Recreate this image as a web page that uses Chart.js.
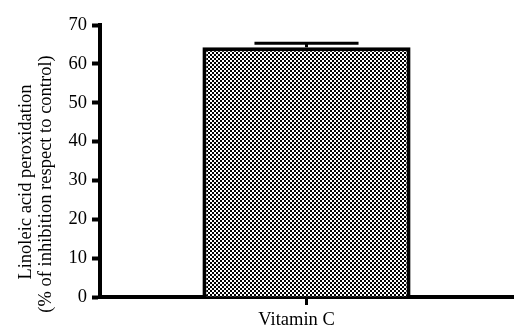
<!DOCTYPE html>
<html>
<head>
<meta charset="utf-8">
<script src="https://cdn.jsdelivr.net/npm/chart.js@4"></script>
<style>
  html, body { margin: 0; padding: 0; background: #fff; }
  #wrap { width: 526px; height: 336px; }
</style>
</head>
<body>
<div id="wrap"><canvas id="myChart" width="526" height="336"></canvas></div>
<script>
// data
const labels = ["Vitamin C"]
const values = [64.3]
const errors = [1.0]
const yTicks = [0, 10, 20, 30, 40, 50, 60, 70]
const yTitle = ["Linoleic acid peroxidation", "(% of inhibition respect to control)"]

const fontFamily = "'Liberation Serif', 'Times New Roman', serif"
const font = { family: fontFamily, size: 18.5 }

// small checker pattern for the bar fill
function checker() {
    let c = document.createElement("canvas")
    c.width = 4
    c.height = 4
    let g = c.getContext("2d")
    g.fillStyle = "#fff"
    g.fillRect(0, 0, 4, 4)
    g.fillStyle = "#000"
    g.fillRect(0, 0, 2, 2)
    g.fillRect(2, 2, 2, 2)
    return g.createPattern(c, "repeat")
}

// error bar drawn from the data through the scales
const errorBars = {
    id: "errorBars",
    afterDatasetsDraw(chart) {
        let ctx = chart.ctx
        let meta = chart.getDatasetMeta(0)
        let y = chart.scales.y
        ctx.save()
        ctx.strokeStyle = "#000"
        ctx.lineWidth = 3
        meta.data.forEach((bar, i) => {
            let top = y.getPixelForValue(values[i] + errors[i])
            let mid = y.getPixelForValue(values[i])
            let half = bar.width / 4
            ctx.beginPath()
            ctx.moveTo(bar.x, mid)
            ctx.lineTo(bar.x, top)
            ctx.moveTo(bar.x - half, top)
            ctx.lineTo(bar.x + half, top)
            ctx.stroke()
        })
        ctx.restore()
    }
}

// the y title sits a bit below the middle of the axis in the original
const yTitlePlugin = {
    id: "yTitlePlugin",
    afterDraw(chart) {
        let ctx = chart.ctx
        ctx.save()
        ctx.fillStyle = "#000"
        ctx.font = "18.5px " + fontFamily
        ctx.textAlign = "center"
        ctx.textBaseline = "middle"
        ctx.translate(0, 184)
        ctx.rotate(-Math.PI / 2)
        ctx.fillText(yTitle[0], 2, 26)
        ctx.fillText(yTitle[1], 0, 46)
        ctx.restore()
    }
}

new Chart(document.getElementById("myChart"), {
    type: "bar",
    data: {
        labels: labels,
        datasets: [{
            data: values,
            backgroundColor: checker(),
            borderColor: "#000",
            borderWidth: 4,
            categoryPercentage: 1,
            barPercentage: 0.504
        }]
    },
    options: {
        responsive: false,
        animation: false,
        layout: { padding: { top: 25, right: 13, left: 14, bottom: 0 } },
        plugins: {
            legend: { display: false },
            tooltip: { enabled: false }
        },
        scales: {
            x: {
                afterFit(axis) { axis.height = 39 },
                border: { color: "#000", width: 4 },
                grid: {
                    offset: false,
                    drawOnChartArea: false,
                    drawTicks: true,
                    tickLength: 8,
                    tickWidth: 3,
                    tickColor: "#000"
                },
                ticks: { color: "#000", font: font, padding: 4, labelOffset: -10 }
            },
            y: {
                min: 0,
                max: 70,
                afterBuildTicks(axis) {
                    axis.ticks = yTicks.map(v => ({ value: v }))
                },
                afterFit(axis) { axis.width = 86 },
                border: { color: "#000", width: 4 },
                grid: {
                    drawOnChartArea: false,
                    drawTicks: true,
                    tickLength: 8,
                    tickWidth: 4,
                    tickColor: "#000"
                },
                ticks: { color: "#000", font: font, padding: 5 },
                title: { display: false }
            }
        }
    },
    plugins: [errorBars, yTitlePlugin]
})
</script>
</body>
</html>
